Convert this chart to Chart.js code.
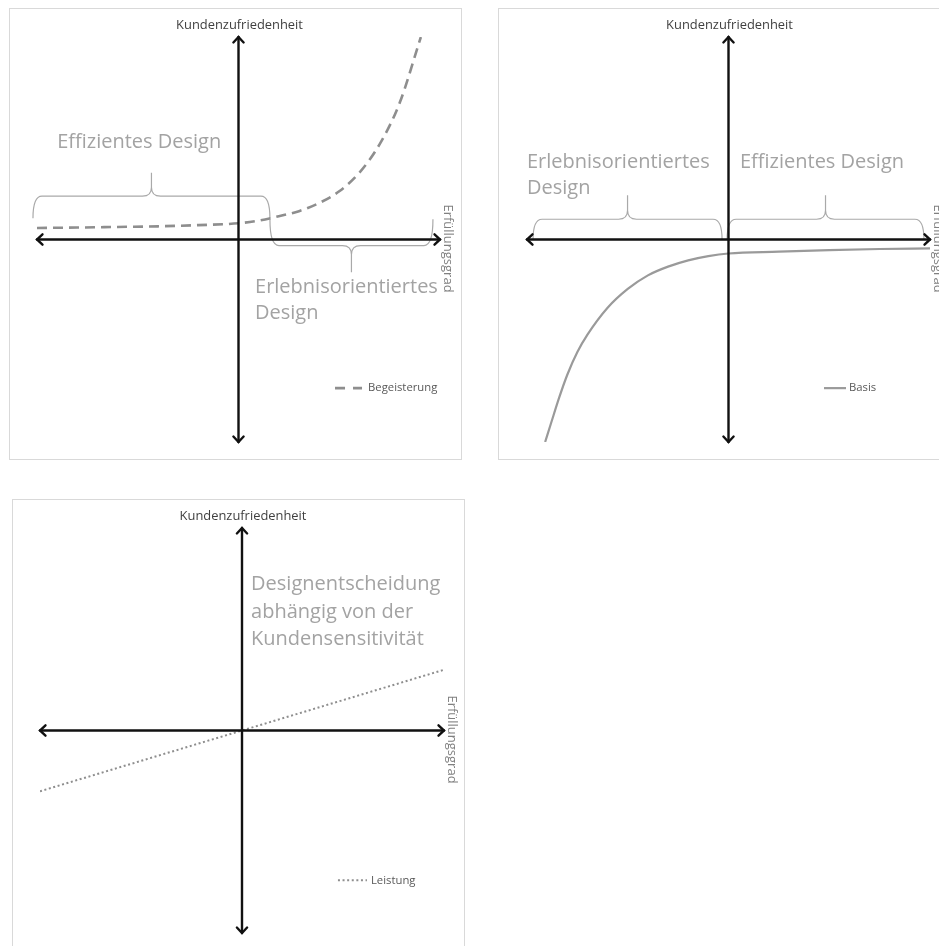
<!DOCTYPE html>
<html lang="de">
<head>
<meta charset="utf-8">
<title>Kano-Kurven</title>
<script src="https://cdn.jsdelivr.net/npm/chart.js@4.4.1/dist/chart.umd.min.js"></script>
<style>
  html, body { margin: 0; padding: 0; background: #ffffff; width: 939px; height: 946px; overflow: hidden; }
  .panel { position: absolute; box-sizing: border-box; border: 1px solid #d9d9d9; background: #ffffff; }
  .panel canvas { position: absolute; left: 0; top: 0; }
</style>
</head>
<body>
<div class="panel" style="left:9px; top:8px; width:453px; height:452px;">
  <canvas id="chartBegeisterung" width="451" height="450"></canvas>
</div>
<div class="panel" style="left:498px; top:8px; width:460px; height:452px;">
  <canvas id="chartBasis" width="458" height="450"></canvas>
</div>
<div class="panel" style="left:12px; top:499px; width:453px; height:460px;">
  <canvas id="chartLeistung" width="451" height="458"></canvas>
</div>

<script>
// Axis titles shared by all three diagrams
const yAxisTitle = 'Kundenzufriedenheit';
const xAxisTitle = 'Erfüllungsgrad';

// Begeisterungsmerkmal (dashed curve)
const begeisterungX = [-1, -0.8, -0.6, -0.4, -0.2, 0, 0.1, 0.2, 0.3, 0.4, 0.5, 0.6, 0.7, 0.8, 0.905];
const begeisterungY = [0.057, 0.059, 0.062, 0.065, 0.071, 0.08, 0.093, 0.115, 0.14, 0.18, 0.238, 0.33, 0.47, 0.675, 1.0];

// Basismerkmal (solid curve)
const basisX = [-0.91, -0.88, -0.84, -0.8, -0.75, -0.7, -0.6, -0.5, -0.4, -0.3, -0.2, -0.1, 0, 0.25, 0.5, 0.75, 1.0];
const basisY = [-1.0, -0.905, -0.78, -0.668, -0.556, -0.47, -0.337, -0.244, -0.177, -0.134, -0.103, -0.082, -0.069, -0.06, -0.052, -0.047, -0.044];

// Leistungsmerkmal (dotted straight line)
const leistungX = [-1, 0, 1];
const leistungY = [-0.3, 0, 0.3];

const TEXT_GREY = '#a3a3a3';
const AXIS_COLOR = '#111111';
const BRACE_COLOR = '#a9a9a9';

function toPoints(xs, ys) {
  return xs.map((x, i) => ({ x: x, y: ys[i] }));
}

function drawArrowHead(ctx, x, y, angle) {
  const len = 7.5, spread = 0.75;
  ctx.beginPath();
  ctx.moveTo(x - len * Math.cos(angle - spread), y - len * Math.sin(angle - spread));
  ctx.lineTo(x, y);
  ctx.lineTo(x - len * Math.cos(angle + spread), y - len * Math.sin(angle + spread));
  ctx.stroke();
}

function drawBrace(ctx, xs, ys, b) {
  const x1 = xs.getPixelForValue(b.from);
  const x2 = xs.getPixelForValue(b.to);
  const yEnd = ys.getPixelForValue(b.end);
  const yLine = ys.getPixelForValue(b.line);
  const yTip = ys.getPixelForValue(b.tip);
  const xm = (x1 + x2) / 2;
  const dir = Math.sign(yTip - yLine);
  const r = Math.min(9, Math.abs(yEnd - yLine), Math.abs(yTip - yLine));
  ctx.beginPath();
  ctx.moveTo(x1, yEnd);
  ctx.quadraticCurveTo(x1, yLine, x1 + r, yLine);
  ctx.lineTo(xm - r, yLine);
  ctx.quadraticCurveTo(xm, yLine, xm, yLine + dir * r);
  ctx.lineTo(xm, yTip);
  ctx.moveTo(xm, yLine + dir * r);
  ctx.quadraticCurveTo(xm, yLine, xm + r, yLine);
  ctx.lineTo(x2 - r, yLine);
  ctx.quadraticCurveTo(x2, yLine, x2, yEnd);
  ctx.stroke();
}

// Draws the cross of axes with arrows, the curly braces, free text and the small legend
const quadrantPlugin = {
  id: 'quadrant',
  beforeDatasetsDraw(chart, args, opts) {
    const ctx = chart.ctx;
    const xs = chart.scales.x, ys = chart.scales.y;
    ctx.save();
    ctx.strokeStyle = BRACE_COLOR;
    ctx.lineWidth = 1.2;
    (opts.braces || []).forEach(b => drawBrace(ctx, xs, ys, b));

    ctx.fillStyle = TEXT_GREY;
    ctx.font = '20px "Open Sans", sans-serif';
    ctx.textBaseline = 'middle';
    ctx.textAlign = 'left';
    (opts.notes || []).forEach(n => {
      const x = xs.getPixelForValue(n.x);
      let y = ys.getPixelForValue(n.y);
      n.lines.forEach(line => {
        ctx.fillText(line, x, y);
        y += n.lineHeight;
      });
    });
    ctx.restore();
  },
  afterDatasetsDraw(chart, args, opts) {
    const ctx = chart.ctx;
    const xs = chart.scales.x, ys = chart.scales.y;
    const x0 = xs.getPixelForValue(0), y0 = ys.getPixelForValue(0);
    const xl = xs.getPixelForValue(-1), xr = xs.getPixelForValue(1);
    const yt = ys.getPixelForValue(1), yb = ys.getPixelForValue(-1);

    ctx.save();
    ctx.strokeStyle = AXIS_COLOR;
    ctx.lineWidth = 2.4;
    ctx.lineCap = 'round';
    ctx.lineJoin = 'miter';
    ctx.beginPath();
    ctx.moveTo(xl, y0); ctx.lineTo(xr, y0);
    ctx.moveTo(x0, yt); ctx.lineTo(x0, yb);
    ctx.stroke();
    drawArrowHead(ctx, xr, y0, 0);
    drawArrowHead(ctx, xl, y0, Math.PI);
    drawArrowHead(ctx, x0, yt, -Math.PI / 2);
    drawArrowHead(ctx, x0, yb, Math.PI / 2);

    // axis titles
    ctx.fillStyle = '#3f3f3f';
    ctx.font = '12.9px "Open Sans", sans-serif';
    ctx.textAlign = 'center';
    ctx.textBaseline = 'middle';
    ctx.fillText(yAxisTitle, x0 + 1, yt - 12);

    ctx.save();
    ctx.translate(xr + 8, y0 + 9);
    ctx.rotate(Math.PI / 2);
    ctx.fillStyle = '#808080';
    ctx.font = '13px "Open Sans", sans-serif';
    ctx.fillText(xAxisTitle, 0, 0);
    ctx.restore();

    // legend entry
    const lg = opts.legend;
    if (lg) {
      const ds = chart.data.datasets[0];
      const lx = xs.getPixelForValue(lg.x), ly = ys.getPixelForValue(lg.y);
      ctx.strokeStyle = ds.borderColor;
      ctx.lineWidth = ds.borderWidth;
      ctx.lineCap = 'butt';
      ctx.setLineDash(lg.dash || []);
      ctx.beginPath();
      ctx.moveTo(lx, ly);
      ctx.lineTo(lx + lg.length, ly);
      ctx.stroke();
      ctx.setLineDash([]);
      ctx.fillStyle = '#595959';
      ctx.font = '11.3px "Open Sans", sans-serif';
      ctx.textAlign = 'left';
      ctx.fillText(ds.label, lx + lg.length + lg.gap, ly);
    }
    ctx.restore();
  }
};

function makeChart(id, dataset, padding, pluginOpts) {
  return new Chart(document.getElementById(id), {
    type: 'line',
    data: { datasets: [dataset] },
    options: {
      responsive: false,
      devicePixelRatio: 1,
      animation: false,
      events: [],
      layout: { padding: padding },
      scales: {
        x: { type: 'linear', min: -1, max: 1, display: false },
        y: { type: 'linear', min: -1, max: 1, display: false }
      },
      plugins: {
        legend: { display: false },
        tooltip: { enabled: false },
        quadrant: pluginOpts
      },
      elements: { point: { radius: 0 } }
    },
    plugins: [quadrantPlugin]
  });
}

makeChart('chartBegeisterung', {
  label: 'Begeisterung',
  data: toPoints(begeisterungX, begeisterungY),
  borderColor: '#8e8e8e',
  borderWidth: 2.6,
  borderDash: [10, 6],
  cubicInterpolationMode: 'monotone',
  fill: false
}, { left: 27, right: 21, top: 28, bottom: 17 }, {
  braces: [
    { from: -1.02, to: 0.156, end: 0.105, line: 0.214, tip: 0.33 },
    { from: 0.156, to: 0.965, end: 0.1, line: -0.03, tip: -0.162 }
  ],
  notes: [
    { x: -0.9, y: 0.48, lineHeight: 26, lines: ['Effizientes Design'] },
    { x: 0.082, y: -0.236, lineHeight: 26, lines: ['Erlebnisorientiertes', 'Design'] }
  ],
  legend: { x: 0.479, y: -0.734, length: 27, gap: 6, dash: [10, 8] }
});

makeChart('chartBasis', {
  label: 'Basis',
  data: toPoints(basisX, basisY),
  borderColor: '#9a9a9a',
  borderWidth: 2.2,
  cubicInterpolationMode: 'monotone',
  fill: false
}, { left: 28, right: 27, top: 28, bottom: 17 }, {
  braces: [
    { from: -0.97, to: -0.032, end: 0.0, line: 0.1, tip: 0.219 },
    { from: -0.007, to: 0.97, end: 0.0, line: 0.1, tip: 0.219 }
  ],
  notes: [
    { x: -1.0, y: 0.382, lineHeight: 26, lines: ['Erlebnisorientiertes', 'Design'] },
    { x: 0.057, y: 0.382, lineHeight: 26, lines: ['Effizientes Design'] }
  ],
  legend: { x: 0.474, y: -0.734, length: 22, gap: 3 }
});

makeChart('chartLeistung', {
  label: 'Leistung',
  data: toPoints(leistungX, leistungY),
  borderColor: '#8e8e8e',
  borderWidth: 2,
  borderDash: [2, 2.6],
  fill: false
}, { left: 27, right: 20, top: 28, bottom: 25 }, {
  braces: [],
  notes: [
    { x: 0.045, y: 0.72, lineHeight: 27.5, lines: ['Designentscheidung', 'abhängig von der', 'Kundensensitivität'] }
  ],
  legend: { x: 0.475, y: -0.74, length: 29, gap: 4, dash: [2, 2.6] }
});
</script>
</body>
</html>
